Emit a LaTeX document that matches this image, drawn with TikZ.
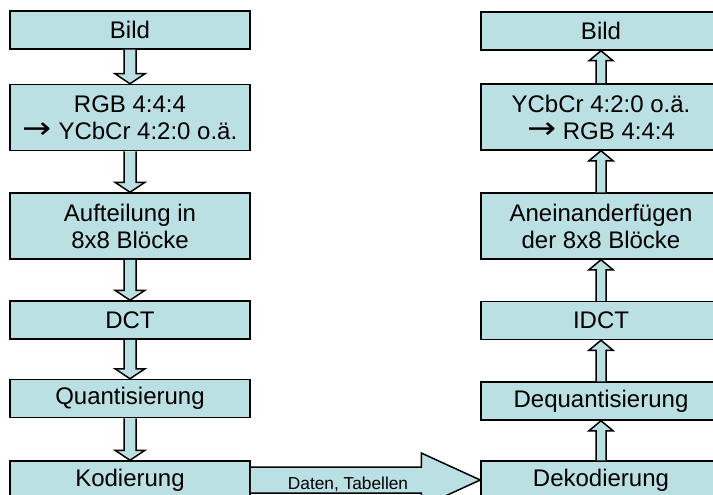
\documentclass[tikz,border=0pt]{standalone}
\usepackage{fontspec}
\setmainfont{Liberation Sans}
\newfontfamily\arrowfont{DejaVu Sans}
\usetikzlibrary{calc}

\definecolor{boxfill}{RGB}{187,224,227}

\tikzset{
  stage/.style={draw=black, fill=boxfill, line width=1.5pt, rectangle,
    minimum width=240pt, inner sep=0pt, align=center,
    font=\fontsize{24}{27}\selectfont},
  onerow/.style={stage, minimum height=38pt},
  tworow/.style={stage, minimum height=66pt},
  blockarrow/.style={draw=black, fill=boxfill, line width=1.5pt, line join=miter},
  lbl/.style={inner sep=0pt, font=\fontsize{17.3}{20}\selectfont}
}

% thin conversion arrow used inside the colour-space boxes
\newcommand\conv{\raisebox{0.5pt}{\scalebox{1.45}[1.25]{\arrowfont →}}}

% downward block arrow from the bottom of #1 to the top of #2
\newcommand\downblock[2]{%
  \draw[blockarrow] ($(#1.south)+(-6,0)$) -- ($(#2.north)+(-6,-10)$)
    -- ($(#2.north)+(-15,-10)$) -- (#2.north) -- ($(#2.north)+(15,-10)$)
    -- ($(#2.north)+(6,-10)$) -- ($(#1.south)+(6,0)$);}
% upward block arrow from the top of #1 to the bottom of #2
\newcommand\upblock[2]{%
  \draw[blockarrow] ($(#1.north)+(-5,0)$) -- ($(#2.south)+(-5,10)$)
    -- ($(#2.south)+(-12,10)$) -- (#2.south) -- ($(#2.south)+(12,10)$)
    -- ($(#2.south)+(5,10)$) -- ($(#1.north)+(5,0)$);}

\begin{document}
\begin{tikzpicture}[x=1pt, y=-1pt]
\clip (0,0) rectangle (713,495);
\useasboundingbox (0,0) rectangle (713,495);

% encoder
\node[onerow] (eBild) at (130,30)    {Bild};
\node[tworow] (eRGB)  at (130,117.5) {RGB 4:4:4\\\conv{} YCbCr 4:2:0 o.ä.};
\node[tworow] (eAuf)  at (130,226)   {Aufteilung in\\8x8 Blöcke};
\node[onerow] (eDCT)  at (130,320)   {DCT};
\node[onerow] (eQ)    at (130,398.5) {Quantisierung};
\node[onerow] (eKod)  at (130,480)   {Kodierung};

% decoder
\node[onerow] (dBild) at (601,31)    {Bild};
\node[tworow] (dRGB)  at (601,117)   {YCbCr 4:2:0 o.ä.\\\conv{} RGB 4:4:4};
\node[tworow] (dAn)   at (601,226)   {Aneinanderfügen\\der 8x8 Blöcke};
\node[onerow] (dIDCT) at (601,320.5) {IDCT};
\node[onerow] (dQ)    at (601,401)   {Dequantisierung};
\node[onerow] (dKod)  at (601,480)   {Dekodierung};

% encoder arrows
\downblock{eBild}{eRGB}
\downblock{eRGB}{eAuf}
\downblock{eAuf}{eDCT}
\downblock{eDCT}{eQ}
\downblock{eQ}{eKod}

% decoder arrows
\upblock{dKod}{dQ}
\upblock{dQ}{dIDCT}
\upblock{dIDCT}{dAn}
\upblock{dAn}{dRGB}
\upblock{dRGB}{dBild}

% transfer arrow
\draw[blockarrow] ($(eKod.east)+(0,-13)$) -- ($(dKod.west)+(-59,-13)$)
  -- ($(dKod.west)+(-59,-27)$) -- (dKod.west) -- ($(dKod.west)+(-59,27)$)
  -- ($(dKod.west)+(-59,13)$) -- ($(eKod.east)+(0,13)$);
\node[lbl] (data) at (348,484) {Daten, Tabellen};
\end{tikzpicture}
\end{document}
